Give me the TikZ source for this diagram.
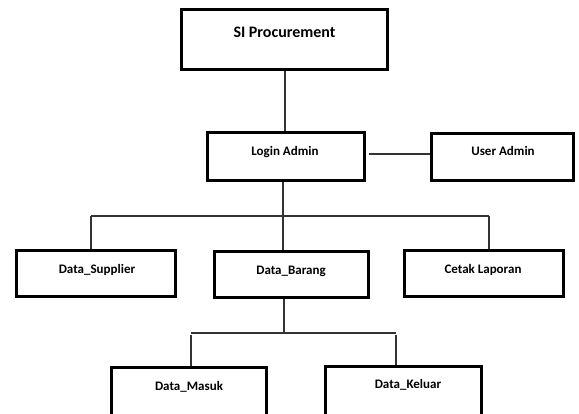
\documentclass[tikz,border=0pt]{standalone}
\usepackage{fontspec}
\setmainfont{Carlito}
\usetikzlibrary{calc}
\tikzset{
  box/.style={draw=black, line width=2.6pt, rectangle, inner sep=0pt},
  lbl/.style={font=\bfseries\fontsize{13}{15}\selectfont, inner sep=0pt, anchor=center},
  conn/.style={draw=black!80, line width=1.2pt}
}
\begin{document}
\begin{tikzpicture}[x=1pt,y=-1pt]
\useasboundingbox (0,0) rectangle (579,414);
\clip (0,0) rectangle (579,414);
% boxes (outer edges from reference, border centred)
\node[box, minimum width=206pt, minimum height=60pt] (si) at (284.5,39.5) {};
\node[lbl, font=\bfseries\fontsize{16}{18}\selectfont] (si-t) at (284.5,32) {SI Procurement};
\node[box, minimum width=157pt, minimum height=48pt] (login) at (286,156.5) {};
\node[lbl] (login-t) at (285,152) {Login Admin};
\node[box, minimum width=142pt, minimum height=47pt] (user) at (502.5,157) {};
\node[lbl] (user-t) at (503,151) {User Admin};
\node[box, minimum width=159pt, minimum height=46pt] (sup) at (96,273.5) {};
\node[lbl] (sup-t) at (97,270) {Data\_Supplier};
\node[box, minimum width=154pt, minimum height=46pt] (barang) at (291.5,274.5) {};
\node[lbl] (barang-t) at (291,271) {Data\_Barang};
\node[box, minimum width=159pt, minimum height=46pt] (cetak) at (484,273.5) {};
\node[lbl] (cetak-t) at (483,270) {Cetak Laporan};
\node[box, minimum width=155pt, minimum height=60pt] (masuk) at (189,397.5) {};
\node[lbl] (masuk-t) at (189,387) {Data\_Masuk};
\node[box, minimum width=156pt, minimum height=60pt] (keluar) at (403.5,396.5) {};
\node[lbl] (keluar-t) at (408,385) {Data\_Keluar};
% connectors
\coordinate (ja) at (283,216);
\coordinate (jl) at (91,216);
\coordinate (jr) at (489,216);
\coordinate (jb) at (284,333);
\coordinate (jbl) at (191,333);
\coordinate (jbr) at (396,333);
\draw[conn] (si.south -| 285,0) -- (login.north -| 285,0);
\draw[conn] ([xshift=3pt]login.east |- 0,154) -- (user.west |- 0,154);
\draw[conn] (login.south -| ja) -- (barang.north -| ja);
\draw[conn] (jl) -- (jr);
\draw[conn] (jl) -- (sup.north -| jl);
\draw[conn] (jr) -- (cetak.north -| jr);
\draw[conn] (barang.south -| jb) -- (jb);
\draw[conn] (jbl) -- (jbr);
\draw[conn] ([yshift=-2pt]jbl) -- (masuk.north -| jbl);
\draw[conn] ([yshift=-2pt]jbr) -- (keluar.north -| jbr);
\end{tikzpicture}
\end{document}
